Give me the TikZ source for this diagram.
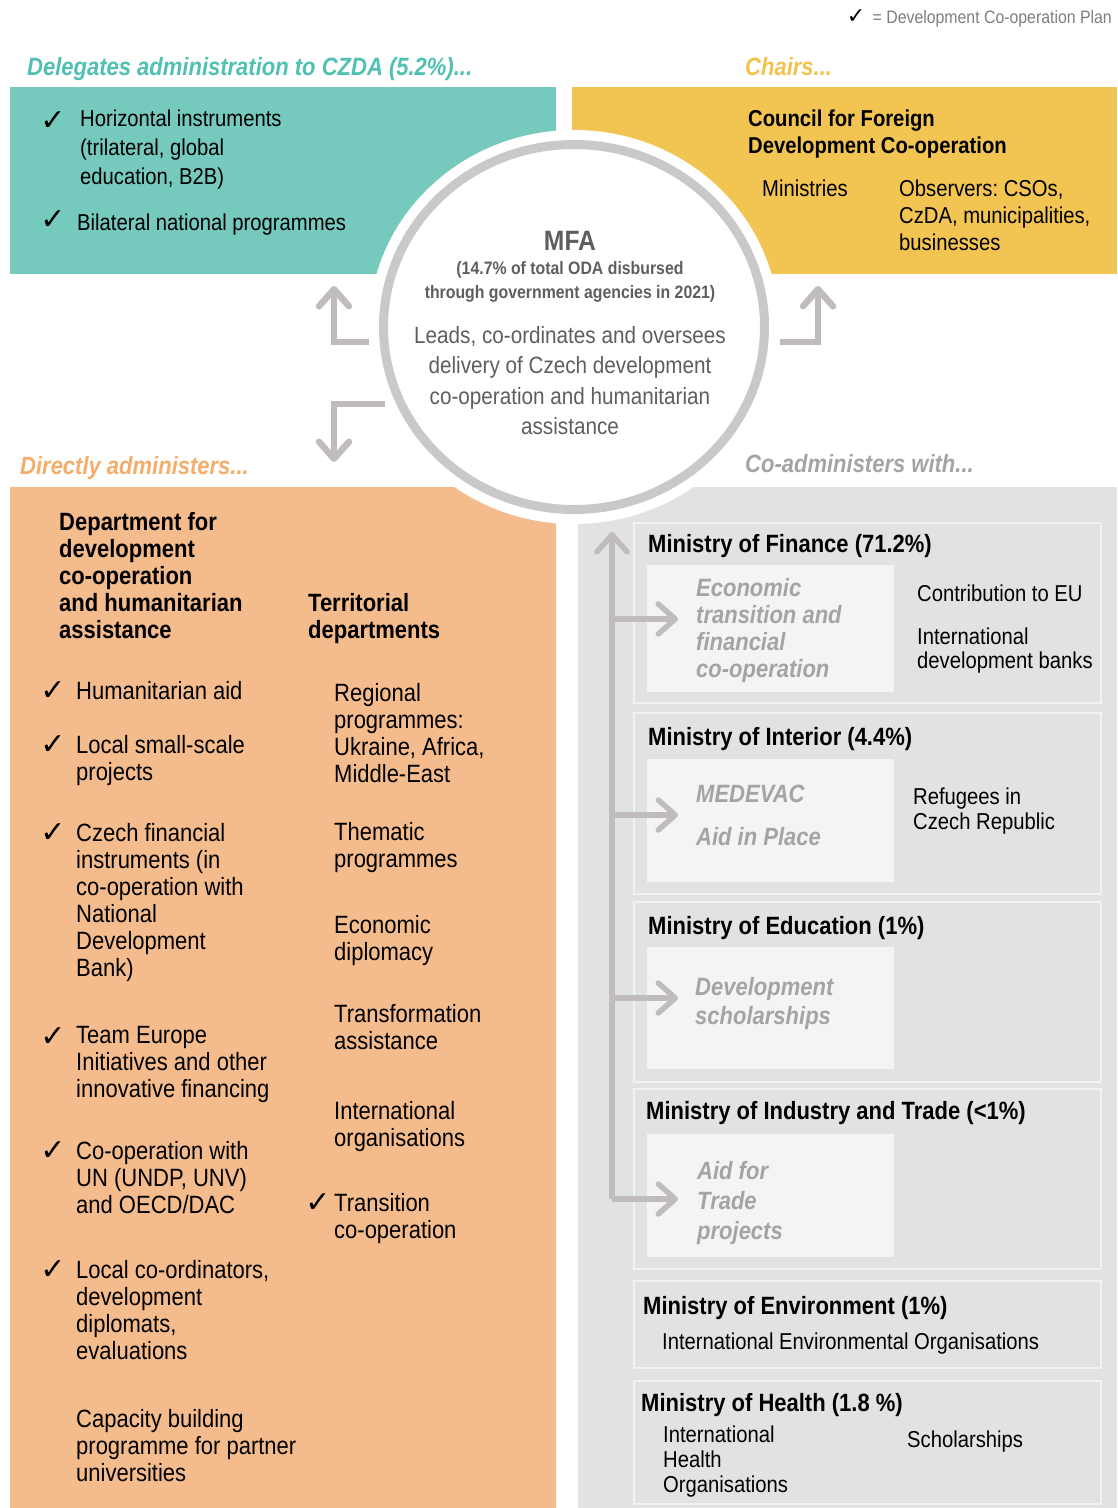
\documentclass[tikz,border=0pt]{standalone}
\usepackage{fontspec}
\setmainfont[FakeStretch=0.88]{Liberation Sans}
\newfontfamily\symfont{DejaVu Sans}
\usetikzlibrary{arrows.meta}
\frenchspacing

\definecolor{czteal}{HTML}{75C9BD}
\definecolor{czyellow}{HTML}{F2C552}
\definecolor{czorange}{HTML}{F4BC8C}
\definecolor{czgray}{HTML}{E1E2E4}
\definecolor{czlight}{HTML}{F4F4F6}
\definecolor{czedge}{HTML}{F2F2F3}
\definecolor{czring}{HTML}{C9C9C9}
\definecolor{czarrow}{HTML}{C0BCBD}
\definecolor{tealtext}{HTML}{4FC0B1}
\definecolor{yellowtext}{HTML}{F1C24C}
\definecolor{orangetext}{HTML}{F4AD6B}
\definecolor{graytext}{HTML}{A4A4A4}
\definecolor{mfatext}{HTML}{5E5E5E}

\tikzset{
  txt/.style={anchor=north west, inner sep=0pt, align=left, font=\fontsize{23}{27}\selectfont},
  bigtxt/.style={txt, font=\fontsize{25}{27}\selectfont},
  headtxt/.style={txt, font=\fontsize{25}{27}\selectfont\bfseries},
  titletxt/.style={txt, font=\fontsize{25}{27}\selectfont\bfseries\itshape},
  softtxt/.style={txt, text=graytext, font=\fontsize{25}{27}\selectfont\bfseries\itshape},
  tick/.style={inner sep=0pt, font=\symfont\bfseries\fontsize{30}{30}\selectfont},
  minbox/.style={fill=czgray, draw=czedge, line width=1.5pt},
  innerbox/.style={fill=czlight},
  garrow/.style={draw=czarrow, line width=6.5pt, line cap=butt, line join=miter,
    -{Straight Barb[length=17pt, width=30pt, round]}},
  tarrow/.style={garrow, line width=5.5pt}
}

\begin{document}
\begin{tikzpicture}[x=1pt, y=-1pt]
\useasboundingbox (0,0) rectangle (1117,1508);

\fill[czteal] (10,87) rectangle (556,274);
\fill[czyellow] (572,87) rectangle (1117,274);
\fill[czorange] (10,487) rectangle (556,1508);
\fill[czgray] (578,487) rectangle (1117,1508);
\fill[white] (574,327) ellipse [x radius=205pt, y radius=197pt];
\draw[czring, line width=9pt] (574,327) ellipse [x radius=190.5pt, y radius=182.5pt];

\node[anchor=north east, inner sep=0pt, text=mfatext!80, font=\fontsize{18}{20}\selectfont] (legend) at (1112,9)
  {{\color{black}\symfont\bfseries\fontsize{22}{20}\selectfont ✓}\, = Development Co-operation Plan};

\node[titletxt, text=tealtext] (delegates) at (27,57) {Delegates administration to CZDA (5.2\%)...};
\node[titletxt, text=yellowtext] (chairs) at (745,57) {Chairs...};
\node[titletxt, text=orangetext] (directly) at (20,456) {Directly administers...};
\node[titletxt, text=graytext] (coadmin) at (745,454) {Co-administers with...};

\node[tick] (tk1) at (53,121) {✓};
\node[txt, font=\fontsize{23}{29}\selectfont] (horizontal) at (80,109.5) {Horizontal instruments\\(trilateral, global\\education, B2B)};
\node[tick] (tk2) at (53,220) {✓};
\node[txt] (bilateral) at (77,213.5) {Bilateral national programmes};

\node[txt, font=\fontsize{23}{27}\selectfont\bfseries] (council) at (748,109.5) {Council for Foreign\\Development Co-operation};
\node[txt] (ministries) at (762,179.5) {Ministries};
\node[txt] (observers) at (899,179.5) {Observers: CSOs,\\CzDA, municipalities,\\businesses};

\node[anchor=north, inner sep=0pt, text=mfatext, font=\fontsize{28}{30}\selectfont\bfseries] (mfa) at (570,231) {MFA};
\node[anchor=north, inner sep=0pt, align=center, text=mfatext, font=\fontsize{18}{24}\selectfont\bfseries] (share) at (570,261)
  {(14.7\% of total ODA disbursed\\through government agencies in 2021)};
\node[anchor=north, inner sep=0pt, align=center, text=mfatext, font=\fontsize{23.5}{30.5}\selectfont] (role) at (570,326)
  {Leads, co-ordinates and oversees\\delivery of Czech development\\co-operation and humanitarian\\assistance};

\coordinate (ula) at (369,342);
\coordinate (ulb) at (334,342);
\coordinate (ulc) at (334,286);
\draw[garrow] (ula) -- (ulb) -- (ulc);
\coordinate (ura) at (780,342);
\coordinate (urb) at (818,342);
\coordinate (urc) at (818,286);
\draw[garrow] (ura) -- (urb) -- (urc);
\coordinate (lda) at (385,404);
\coordinate (ldb) at (334,404);
\coordinate (ldc) at (334,462);
\draw[garrow] (lda) -- (ldb) -- (ldc);

\node[headtxt] (dept) at (59,512) {Department for\\development\\co-operation\\and humanitarian\\assistance};
\node[headtxt] (terr) at (308,593) {Territorial\\departments};

\node[tick] (tk3) at (53,691) {✓};
\node[bigtxt] (humanit) at (76,681) {Humanitarian aid};
\node[tick] (tk4) at (53,745) {✓};
\node[bigtxt] (smallscale) at (76,735) {Local small-scale\\projects};
\node[tick] (tk5) at (53,833) {✓};
\node[bigtxt] (finins) at (76,823) {Czech financial\\instruments (in\\co-operation with\\National\\Development\\Bank)};
\node[tick] (tk6) at (53,1037) {✓};
\node[bigtxt] (teameu) at (76,1026) {Team Europe\\Initiatives and other\\innovative financing};
\node[tick] (tk7) at (53,1151) {✓};
\node[bigtxt] (uncoop) at (76,1141) {Co-operation with\\UN (UNDP, UNV)\\and OECD/DAC};
\node[tick] (tk8) at (53,1270) {✓};
\node[bigtxt] (coord) at (76,1260) {Local co-ordinators,\\development\\diplomats,\\evaluations};
\node[bigtxt] (capacity) at (76,1409) {Capacity building\\programme for partner\\universities};

\node[bigtxt] (regional) at (334,683) {Regional\\programmes:\\Ukraine, Africa,\\Middle-East};
\node[bigtxt] (thematic) at (334,822) {Thematic\\programmes};
\node[bigtxt] (econdip) at (334,915) {Economic\\diplomacy};
\node[bigtxt] (transf) at (334,1004) {Transformation\\assistance};
\node[bigtxt] (intorg) at (334,1101) {International\\organisations};
\node[tick] (tk9) at (318,1203) {✓};
\node[bigtxt] (transition) at (334,1193) {Transition\\co-operation};

\draw[minbox] (634,523) rectangle (1101,703);
\draw[minbox] (634,713) rectangle (1101,894);
\draw[minbox] (634,902) rectangle (1101,1082);
\draw[minbox] (634,1089) rectangle (1101,1269);
\draw[minbox] (634,1281) rectangle (1101,1368);
\draw[minbox] (634,1381) rectangle (1101,1504);
\fill[innerbox] (647,565) rectangle (894,692);
\fill[innerbox] (647,759) rectangle (894,882);
\fill[innerbox] (647,947) rectangle (894,1069);
\fill[innerbox] (647,1134) rectangle (894,1257);

\coordinate (trunkbot) at (612,1199);
\coordinate (trunktop) at (612,532);
\draw[tarrow] (trunkbot) -- (trunktop);
\foreach \y [count=\i] in {619,815,998,1199} {
  \coordinate (br\i) at (612,\y);
  \coordinate (bre\i) at (678,\y);
  \draw[tarrow] (br\i) -- (bre\i);
}

\node[headtxt] (finance) at (648,534) {Ministry of Finance (71.2\%)};
\node[headtxt] (interior) at (648,727) {Ministry of Interior (4.4\%)};
\node[headtxt] (education) at (648,916) {Ministry of Education (1\%)};
\node[headtxt] (industry) at (646,1101) {Ministry of Industry and Trade (<1\%)};
\node[headtxt] (environment) at (643,1296) {Ministry of Environment (1\%)};
\node[headtxt] (health) at (641,1393) {Ministry of Health (1.8 \%)};

\node[softtxt] (econtrans) at (696,578) {Economic\\transition and\\financial\\co-operation};
\node[softtxt] (medevac) at (696,785) {MEDEVAC};
\node[softtxt] (aidplace) at (696,827) {Aid in Place};
\node[softtxt, font=\fontsize{25}{29}\selectfont\bfseries\itshape] (devschol) at (695,977) {Development\\scholarships};
\node[softtxt, font=\fontsize{25}{30}\selectfont\bfseries\itshape] (aidtrade) at (697,1161) {Aid for\\Trade\\projects};

\node[txt] (contrib) at (917,584.5) {Contribution to EU};
\node[txt, font=\fontsize{23}{24}\selectfont] (devbanks) at (917,627.5) {International\\development banks};
\node[txt, font=\fontsize{23}{25}\selectfont] (refugees) at (913,787.5) {Refugees in\\Czech Republic};
\node[txt] (envorg) at (662,1332.5) {International Environmental Organisations};
\node[txt, font=\fontsize{23}{25}\selectfont] (healthorg) at (663,1425.5) {International\\Health\\Organisations};
\node[txt] (scholar) at (907,1430.5) {Scholarships};
\end{tikzpicture}
\end{document}
